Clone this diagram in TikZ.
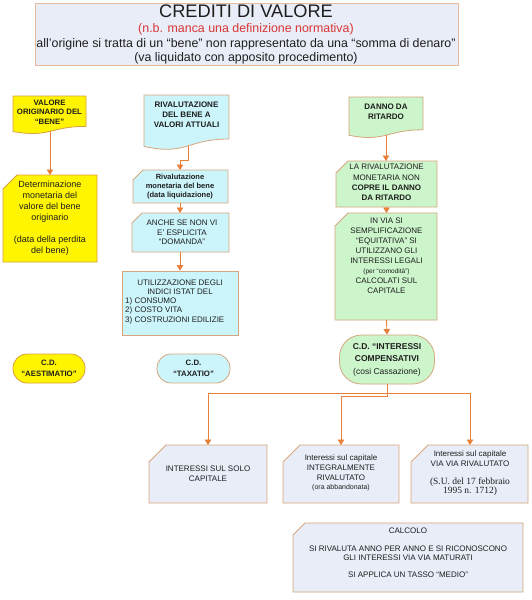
\documentclass[tikz,border=0pt]{standalone}
\usepackage{fontspec}
\setmainfont{Liberation Sans}
\newfontfamily\tnrfont{Liberation Serif}
\usetikzlibrary{arrows.meta}
\definecolor{bord}{HTML}{D7A67C}
\definecolor{tbord}{HTML}{E5B99A}
\definecolor{ybord}{HTML}{D9A040}
\definecolor{yfill}{HTML}{FFF500}
\definecolor{cfill}{HTML}{CCF5FB}
\definecolor{gfill}{HTML}{CCF5CC}
\definecolor{bfill}{HTML}{E8EDF7}
\definecolor{arrc}{HTML}{E8803A}
\definecolor{redt}{HTML}{D93636}
\definecolor{txt}{HTML}{1E1E1E}
\newcommand{\fsz}[2]{\fontsize{#1}{#2}\selectfont}
\newcommand{\docshape}[5]{\path[#1] (#2,#3) -- (#4,#3) -- (#4,{#3+0.80*#5}) .. controls ({(#2+#4)/2},{#3+0.80*#5}) and ({(#2+#4)/2},{#3+1.108*#5}) .. (#2,{#3+0.934*#5}) -- cycle;}
\newcommand{\cardshape}[6]{\path[#1] (#2,{#3+#6}) -- ({#2+#6},#3) -- (#4,#3) -- (#4,#5) -- (#2,#5) -- cycle;}
\tikzset{
  shp/.style={draw=bord, line width=0.8pt},
  lbl/.style={align=center, inner sep=0pt, text=txt},
  conn/.style={draw=arrc, line width=0.9pt},
  arr/.style={conn, -{Triangle[length=5.5pt,width=6.5pt]}},
  stad/.style={shp, rounded corners=14pt, inner sep=0pt, align=center, text=txt},
}
\begin{document}
\begin{tikzpicture}[x=1pt,y=-1pt]
\useasboundingbox (0,0) rectangle (532,600);
\fill[white] (0,0) rectangle (532,600);

% title
\node[shp, fill=bfill, draw=tbord, minimum width=423pt, minimum height=62pt, inner sep=0pt] (title) at (246.5,34) {};
\node[lbl, anchor=base, font=\fsz{18.2}{20}] (t1) at (246,17.5) {CREDITI DI VALORE};
\node[lbl, anchor=base, font=\fsz{12.4}{14}, text=redt] (t2) at (246,32.5) {(n.b. manca una definizione normativa)};
\node[lbl, anchor=base, font=\fsz{12.4}{14}] (t3) at (246,47) {all'origine si tratta di un “bene” non rappresentato da una “somma di denaro”};
\node[lbl, anchor=base, font=\fsz{12.4}{14}] (t4) at (246,61) {(va liquidato con apposito procedimento)};

% column 1
\docshape{shp, fill=yfill, draw=ybord}{13}{96}{86}{38}
\node[lbl, font=\bfseries\fsz{7.8}{9.3}] (valore) at (49.5,112) {VALORE\\ORIGINARIO DEL\\“BENE”};
\coordinate (valoreb) at (50,131);
\cardshape{shp, fill=yfill, draw=ybord}{3}{175}{97}{262}{14}
\coordinate (detT) at (50,175);
\node[lbl, font=\fsz{9}{11}] (det) at (50,218) {Determinazione\\monetaria del\\valore del bene\\originario\\[11pt](data della perdita\\del bene)};
\draw[arr] (valoreb) -- (detT);
\node[stad, fill=yfill, draw=ybord, minimum width=72pt, minimum height=29pt, font=\bfseries\fsz{7.8}{11}] (aest) at (49,368.5) {C.D.\\“AESTIMATIO”};

% column 2
\docshape{shp, fill=cfill}{144}{95}{229}{55}
\node[lbl, font=\bfseries\fsz{8}{10}] (riv) at (186.5,115) {RIVALUTAZIONE\\DEL BENE A\\VALORI ATTUALI};
\coordinate (rivb) at (188,146);
\cardshape{shp, fill=cfill}{133}{170}{228}{203}{10}
\coordinate (rmT) at (180,170);
\node[lbl, font=\bfseries\fsz{7.5}{9}] (rm) at (180,187) {Rivalutazione\\monetaria del bene\\(data liquidazione)};
\draw[arr] (rivb) -- ++(0,14) -| (rmT);
\cardshape{shp, fill=cfill}{132}{213}{229}{252}{10}
\coordinate (rmB) at (180,203);
\coordinate (anT) at (180,213);
\node[lbl, font=\fsz{8}{9.5}] (anche) at (182,232.5) {ANCHE SE NON VI\\E’ ESPLICITA\\“DOMANDA”};
\draw[arr] (rmB) -- (anT);
\node[shp, fill=cfill, minimum width=116pt, minimum height=64pt, inner sep=0pt] (util) at (180,303) {};
\coordinate (anB) at (180,252);
\draw[arr] (anB) -- (util.north);
\node[lbl, font=\fsz{8}{9.5}] (ut1) at (180,287) {UTILIZZAZIONE DEGLI\\INDICI ISTAT DEL};
\node[lbl, font=\fsz{8}{9.5}, align=left, anchor=west] (ut2) at (125,310.5) {1) CONSUMO\\2) COSTO VITA\\3) COSTRUZIONI EDILIZIE};
\node[stad, fill=cfill, minimum width=73pt, minimum height=29pt, font=\bfseries\fsz{7.8}{11}] (tax) at (193.5,368.5) {C.D.\\“TAXATIO”};

% column 3
\docshape{shp, fill=gfill}{349}{97}{423}{41}
\node[lbl, font=\bfseries\fsz{8}{9.8}] (danno) at (386,112) {DANNO DA\\RITARDO};
\coordinate (dannob) at (386,135);
\cardshape{shp, fill=gfill}{336}{161}{437}{207}{12}
\coordinate (lrT) at (386,161);
\node[lbl, font=\fsz{8}{10.3}] (lariv) at (386.5,182.5) {LA RIVALUTAZIONE\\MONETARIA NON\\\textbf{COPRE IL DANNO}\\\textbf{DA RITARDO}};
\draw[arr] (dannob) -- (lrT);
\cardshape{shp, fill=gfill}{335}{213}{437}{320}{13}
\coordinate (lrB) at (386.5,207);
\coordinate (ivT) at (386.5,213);
\draw[arr] (lrB) -- (ivT);
\node[lbl, font=\fsz{8}{10}] (invia) at (386.5,256) {IN VIA SI\\SEMPLIFICAZIONE\\“EQUITATIVA” SI\\UTILIZZANO GLI\\INTERESSI LEGALI\\{\fsz{6.5}{10}(per “comodità”)}\\CALCOLATI SUL\\CAPITALE};
\node[shp, fill=gfill, rounded corners=22pt, minimum width=95pt, minimum height=49pt, inner sep=0pt, align=center, text=txt, font=\fsz{8.5}{12.5}] (comp) at (387,359.5) {\textbf{C.D. “INTERESSI}\\\textbf{COMPENSATIVI}\\(cosi Cassazione)};
\coordinate (ivB) at (386.5,320);
\draw[arr] (ivB) -- (comp.north);

% bottom row
\cardshape{shp, fill=bfill}{149}{445}{267}{503}{17}
\node[lbl, font=\fsz{8}{9.5}] (b1) at (208,473.5) {INTERESSI SUL SOLO\\CAPITALE};
\cardshape{shp, fill=bfill}{283}{445}{399}{503}{17}
\node[lbl, font=\fsz{8}{9.8}] (b2) at (341,473) {Interessi sul capitale\\INTEGRALMENTE\\RIVALUTATO\\{\fsz{7}{8.5}(ora abbandonata)}};
\cardshape{shp, fill=bfill}{411}{445}{528}{503}{17}
\node[lbl, font=\fsz{8}{9.3}] (b3) at (470,473.5) {Interessi sul capitale\\VIA VIA RIVALUTATO\\[9pt]{\tnrfont\fsz{9.5}{10}(S.U. del 17 febbraio}\\{\tnrfont\fsz{9.5}{10}1995 n. 1712)}};
\coordinate (b1T) at (208,445);
\coordinate (b2T) at (341,445);
\coordinate (b3T) at (470,445);
\coordinate (split) at (387,393);
\draw[conn] (comp.south) -- (split);
\draw[arr] (split) -| (b1T);
\draw[arr] (split) -| (b3T);
\draw[arr] (comp.south) -- ++(0,12) -| (b2T);

% calcolo
\cardshape{shp, fill=bfill}{293}{523}{523}{592}{12}
\node[lbl, font=\fsz{8}{9.3}] (calc) at (408,553) {CALCOLO\\[8.5pt]SI RIVALUTA ANNO PER ANNO E SI RICONOSCONO\\GLI INTERESSI VIA VIA MATURATI\\[7.5pt]SI APPLICA UN TASSO “MEDIO”};
\end{tikzpicture}
\end{document}
